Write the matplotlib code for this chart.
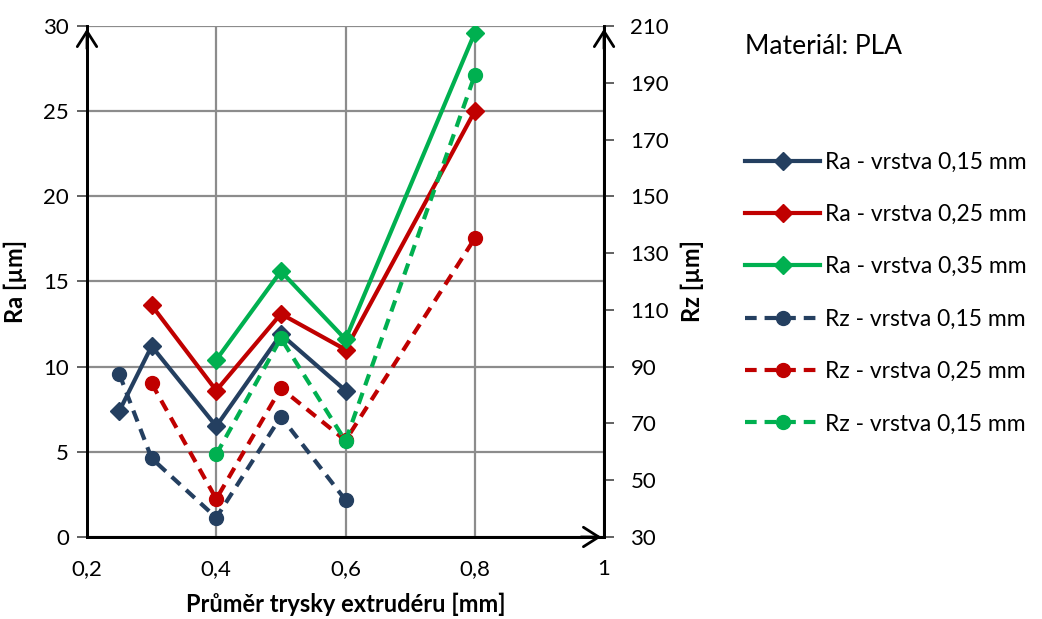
import numpy as np
import matplotlib
matplotlib.use('Agg')
import matplotlib.pyplot as plt
from matplotlib.ticker import FuncFormatter, MultipleLocator, FixedLocator

plt.rcParams['font.family'] = ['Lato', 'DejaVu Sans']

# nozzle diameters [mm]
x_ra15 = [0.25, 0.3, 0.4, 0.5, 0.6]
x_ra25 = [0.3, 0.4, 0.5, 0.6, 0.8]
x_ra35 = [0.4, 0.5, 0.6, 0.8]

# Ra [um] (left axis)
ra15 = [7.4, 11.2, 6.5, 11.9, 8.6]
ra25 = [13.6, 8.6, 13.1, 11.0, 25.0]
ra35 = [10.4, 15.6, 11.6, 29.6]

# Rz [um] (right axis)
rz15 = [87.4, 57.7, 36.8, 72.4, 43.0]
rz25 = [84.1, 43.4, 82.4, 64.0, 135.2]
rz35 = [59.1, 100.0, 63.8, 192.7]

rz_ticks = [30, 50, 70, 90, 110, 130, 150, 170, 190, 210]

labels = ['Ra - vrstva 0,15 mm', 'Ra - vrstva 0,25 mm', 'Ra - vrstva 0,35 mm',
          'Rz - vrstva 0,15 mm', 'Rz - vrstva 0,25 mm', 'Rz - vrstva 0,15 mm']

navy = '#243f60'
red = '#c00000'
green = '#00b050'
dash = (0, (2.8, 1.9))

fig = plt.figure(figsize=(10.42, 6.19), dpi=100)
ax = fig.add_axes([0.0835, 0.1325, 0.4962, 0.8255])
ax2 = ax.twinx()

lines = []
for xs, ys, c in [(x_ra15, ra15, navy), (x_ra25, ra25, red), (x_ra35, ra35, green)]:
    l, = ax.plot(xs, ys, color=c, lw=3, marker='D', ms=9.5, zorder=3)
    lines.append(l)
for xs, ys, c in [(x_ra15, rz15, navy), (x_ra25, rz25, red), (x_ra35, rz35, green)]:
    l, = ax2.plot(xs, ys, color=c, lw=3, ls=dash, marker='o', ms=10, zorder=3)
    lines.append(l)

ax.set_xlim(0.2, 1)
ax.set_ylim(0, 30)
ax2.set_ylim(30, 210)
ax.xaxis.set_major_locator(MultipleLocator(0.2))
ax.yaxis.set_major_locator(MultipleLocator(5))
ax2.yaxis.set_major_locator(FixedLocator(rz_ticks))
ax.xaxis.set_major_formatter(FuncFormatter(lambda v, p: ('%g' % round(v, 2)).replace('.', ',')))

ax.grid(True, color='#8c8c8c', lw=1.6)
ax.set_axisbelow(True)

for a in (ax, ax2):
    a.spines['top'].set_visible(False)
    for s in ('left', 'right', 'bottom'):
        a.spines[s].set_linewidth(2)
        a.spines[s].set_color('black')

ax.tick_params(axis='x', length=0, labelsize=16, pad=16)
ax.tick_params(axis='y', length=7, width=1.3, color='#555555', labelsize=16, pad=6)
ax2.tick_params(axis='y', length=7, width=1.3, color='#555555', labelsize=16, pad=12)

ax.set_xlabel('Průměr trysky extrudéru [mm]', fontsize=17, fontweight='bold', labelpad=10)
ax.set_ylabel('Ra [µm]', fontsize=17, fontweight='bold', labelpad=12)
ax2.set_ylabel('Rz [µm]', fontsize=17, fontweight='bold', labelpad=8)

# arrow heads on axes
arr = dict(arrowstyle='->,head_length=1.1,head_width=0.7', color='black', lw=2)
ax2.annotate('', xy=(0, 1.0), xytext=(0, 0.95), xycoords='axes fraction', arrowprops=arr, annotation_clip=False)
ax2.annotate('', xy=(1, 1.0), xytext=(1, 0.95), xycoords='axes fraction', arrowprops=arr, annotation_clip=False)
ax2.annotate('', xy=(1.0, 0), xytext=(0.95, 0), xycoords='axes fraction', arrowprops=arr, annotation_clip=False)

fig.text(0.715, 0.925, 'Materiál: PLA', fontsize=19, va='center')

fig.legend(lines, labels, loc='upper left', bbox_to_anchor=(0.706, 0.770),
           frameon=False, fontsize=16.5, handlelength=3.3, handletextpad=0.2,
           labelspacing=1.37, borderaxespad=0)

fig.savefig('out.png', dpi=100)
